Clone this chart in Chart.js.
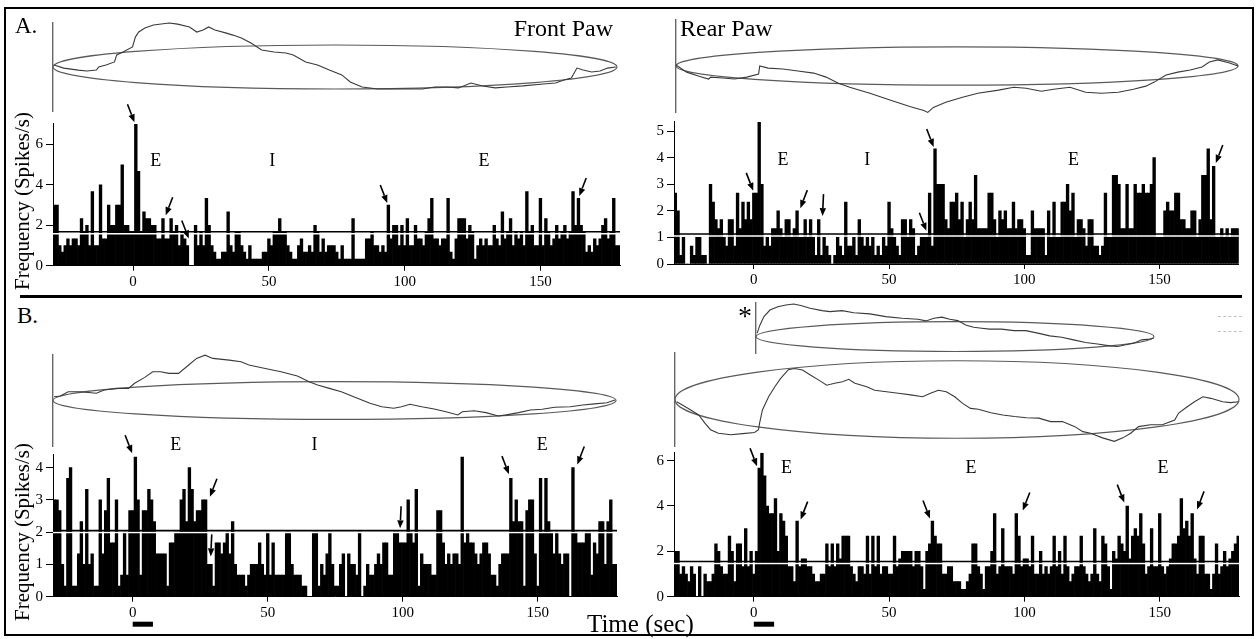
<!DOCTYPE html>
<html>
<head>
<meta charset="utf-8">
<script src="https://cdn.jsdelivr.net/npm/chart.js"></script>
<style>
  html, body { margin: 0; padding: 0; background: #fff; }
  body { width: 1257px; height: 639px; position: relative; overflow: hidden;
         font-family: "Liberation Serif", "Times New Roman", serif; color: #000; }
  canvas { position: absolute; }
  .txt { position: absolute; white-space: nowrap; line-height: 1; }
  .ylab { position: absolute; white-space: nowrap; line-height: 1; font-size: 21px;
          transform: translate(-50%, -50%) rotate(-90deg); }
  #frame { position: absolute; left: 4px; top: 7px; width: 1246px; height: 625px; border: 2px solid #000; }
  #divider { position: absolute; left: 20px; top: 295px; width: 1222px; height: 3px; background: #000; }
  .dash { position: absolute; left: 1218px; width: 24px; border-top: 1px dashed #c4c4c4; }
</style>
</head>
<body>
<div id="frame"></div>
<div id="divider"></div>
<div class="dash" style="top:316px"></div>
<div class="dash" style="top:331px"></div>

<canvas id="histAF"></canvas>
<canvas id="histAR"></canvas>
<canvas id="histBF"></canvas>
<canvas id="histBR"></canvas>
<canvas id="traceAF"></canvas>
<canvas id="traceAR"></canvas>
<canvas id="traceBF"></canvas>
<canvas id="traceBR"></canvas>
<canvas id="traceBRinset"></canvas>

<div class="txt" style="left:15px;top:14px;font-size:23px">A.</div>
<div class="txt" style="right:644px;top:16px;font-size:24px">Front Paw</div>
<div class="txt" style="left:680px;top:16px;font-size:24px">Rear Paw</div>
<div class="txt" style="left:17px;top:304px;font-size:23px">B.</div>
<div class="txt" style="left:738px;top:302px;font-size:28px">*</div>
<div class="ylab" style="left:22px;top:201px">Frequency (Spikes/s)</div>
<div class="ylab" style="left:22px;top:532px">Frequency (Spikes/s)</div>
<div class="txt" style="left:587px;top:611px;font-size:25px">Time (sec)</div>

<script>
// ---- histogram data: spikes/s in 1 s bins, first bin centred at -29 s ----
const BIN_FIRST = -29;
const TIME_TICKS = [0, 50, 100, 150];

// A. front paw
const FRONT_A = [
  3.0, 3.0, 1.0, 0.67, 1.0, 1.33, 1.0, 1.33, 1.33, 1.0,
  2.33, 1.67, 2.0, 1.0, 3.67, 1.0, 1.0, 4.0, 1.33, 1.33,
  3.0, 2.0, 2.0, 3.0, 3.0, 5.0, 2.0, 2.0, 1.67, 1.67,
  7.0, 4.67, 1.67, 2.67, 2.33, 2.33, 2.0, 2.0, 1.33, 1.33,
  2.33, 1.33, 1.33, 2.33, 1.67, 2.0, 1.0, 1.67, 1.33, 1.0,
  0, 0, 2.0, 1.0, 1.67, 1.0, 3.33, 2.0, 1.0, 0.67,
  0.33, 0.33, 0.67, 0.67, 2.67, 1.0, 0.67, 1.67, 1.67, 1.0,
  0.67, 0.33, 1.0, 0.33, 0.33, 0.33, 0.33, 0.67, 0.67, 1.33,
  1.0, 1.67, 1.67, 2.33, 1.67, 1.67, 1.0, 0.67, 0.33, 0.33,
  1.0, 1.33, 0.67, 0.67, 1.0, 0.67, 2.0, 1.67, 0.67, 1.33,
  0.67, 1.0, 1.0, 1.0, 0.67, 0.33, 1.0, 0.33, 0.33, 0.33,
  2.33, 0.33, 0.33, 0.33, 0.33, 1.33, 1.33, 1.67, 1.0, 1.0,
  0.67, 1.0, 0.67, 3.0, 1.33, 2.0, 2.0, 1.0, 2.0, 1.0,
  2.33, 1.0, 1.0, 2.0, 1.33, 1.33, 1.0, 1.67, 2.33, 3.33,
  1.33, 1.33, 1.0, 1.33, 1.33, 3.33, 0.67, 0.33, 1.33, 2.33,
  2.33, 2.33, 1.33, 2.0, 1.67, 0.33, 1.0, 1.33, 1.0, 1.33,
  1.0, 1.0, 2.0, 1.33, 1.0, 2.67, 1.33, 1.67, 2.33, 1.0,
  1.67, 1.33, 1.67, 1.0, 3.67, 1.67, 2.0, 1.0, 1.0, 3.33,
  1.0, 2.33, 1.67, 1.0, 1.33, 2.0, 1.33, 1.67, 2.0, 1.33,
  1.67, 3.67, 2.0, 3.33, 2.0, 1.67, 0.67, 1.0, 0.67, 1.33,
  1.0, 1.33, 2.0, 2.33, 1.33, 1.67, 3.33, 1.0, 1.0
];

// A. rear paw
const REAR_A = [
  2.67, 2.0, 0.33, 1.0, 0, 0, 0.67, 0.33, 1.0, 1.0,
  0.33, 0.33, 0, 3.0, 2.33, 1.67, 1.33, 1.67, 1.0, 0.67,
  1.67, 1.67, 0.67, 2.67, 1.33, 2.33, 1.67, 2.33, 1.67, 2.67,
  2.67, 5.33, 3.0, 0.67, 1.0, 0.67, 1.33, 1.33, 2.0, 1.33,
  1.0, 1.67, 1.67, 1.0, 1.33, 2.0, 1.0, 1.0, 1.67, 1.0,
  1.67, 1.0, 0.33, 1.67, 0.33, 1.0, 0.67, 0.33, 0, 0.33,
  1.0, 0.67, 0.33, 2.33, 0.67, 0.67, 1.0, 0.33, 1.67, 1.0,
  0.67, 1.0, 0.67, 1.0, 0.33, 0.67, 0.33, 1.0, 0.67, 2.33,
  1.33, 1.0, 0.67, 0.33, 1.67, 1.67, 1.0, 1.67, 1.33, 0.33,
  0.67, 1.0, 1.0, 1.0, 2.67, 0.67, 4.33, 3.0, 3.0, 3.0,
  1.67, 1.33, 2.33, 2.33, 2.67, 1.67, 2.33, 1.0, 1.67, 2.33,
  1.67, 3.33, 1.33, 1.33, 1.33, 1.33, 2.67, 2.67, 1.67, 1.0,
  2.0, 1.67, 2.0, 1.33, 1.33, 2.33, 1.33, 1.67, 1.67, 1.33,
  0.33, 0.33, 2.0, 1.33, 1.33, 1.33, 1.33, 0.33, 2.0, 1.0,
  2.33, 1.0, 1.0, 2.33, 2.33, 3.0, 2.0, 2.67, 1.0, 1.67,
  1.67, 1.33, 0.67, 1.67, 1.67, 0.67, 0.67, 0.33, 0.67, 2.67,
  1.0, 1.0, 3.33, 3.33, 3.0, 1.33, 1.33, 3.0, 1.33, 1.33,
  3.0, 2.67, 2.67, 3.0, 2.67, 2.67, 3.0, 4.0, 1.0, 1.0,
  1.0, 2.0, 2.33, 2.0, 2.0, 2.67, 2.67, 1.67, 1.67, 1.33,
  1.33, 2.0, 2.0, 1.0, 1.67, 3.33, 3.33, 4.33, 1.67, 3.67,
  1.0, 1.0, 1.33, 1.0, 1.33, 1.0, 1.33, 1.33, 1.33
];

// B. front paw
const FRONT_B = [
  3.0, 3.0, 2.67, 1.0, 0.33, 3.67, 4.0, 0.33, 0.33, 1.33,
  2.33, 1.0, 3.33, 1.0, 1.33, 0.33, 0.33, 3.0, 1.33, 2.67,
  3.67, 1.67, 1.67, 3.0, 0.33, 0.67, 2.0, 0.67, 2.67, 2.67,
  4.33, 3.0, 0.67, 2.67, 2.67, 3.33, 3.0, 2.33, 1.33, 1.33,
  1.33, 1.33, 0.33, 1.67, 1.67, 2.0, 2.0, 3.0, 3.33, 2.33,
  4.0, 3.33, 2.33, 2.67, 2.67, 3.0, 3.0, 1.0, 1.0, 0.33,
  1.67, 1.67, 1.33, 1.67, 2.0, 1.33, 2.33, 1.0, 0.67, 0.67,
  0.67, 0.33, 0.67, 1.0, 1.0, 1.0, 1.67, 1.0, 0.67, 2.0,
  0.67, 1.67, 0.67, 0.67, 0.67, 0.67, 2.0, 2.0, 1.0, 0.67,
  0.67, 0.67, 0.33, 0.33, 0, 0, 2.0, 2.0, 0.33, 1.0,
  0.67, 1.33, 2.0, 1.0, 0.33, 0.33, 1.0, 1.33, 0, 1.33,
  1.0, 1.0, 0.67, 2.0, 0, 0.33, 1.0, 0.67, 0.67, 1.0,
  1.33, 1.0, 1.67, 1.67, 0.67, 0.67, 2.0, 2.0, 1.67, 1.67,
  1.67, 3.0, 2.0, 1.67, 3.33, 0.33, 1.33, 1.0, 1.0, 1.0,
  0.67, 0.67, 2.67, 2.67, 1.67, 1.0, 1.33, 1.0, 1.33, 1.33,
  1.0, 4.33, 1.67, 2.0, 1.67, 1.67, 1.33, 1.0, 1.33, 1.67,
  1.67, 1.33, 0.67, 0.67, 0.33, 1.0, 1.33, 1.33, 1.33, 3.67,
  2.33, 3.0, 2.33, 2.33, 0.33, 2.67, 3.0, 3.0, 1.33, 0.33,
  3.67, 2.0, 3.67, 2.33, 2.0, 1.33, 2.0, 1.33, 1.0, 1.33,
  1.33, 0, 4.0, 2.0, 1.67, 1.67, 1.67, 2.0, 2.0, 0.67,
  1.67, 1.33, 2.33, 2.33, 1.0, 2.33, 3.0, 1.0, 1.0
];

// B. rear paw
const REAR_B = [
  2.0, 2.0, 1.0, 1.33, 1.0, 0.67, 1.33, 1.0, 0, 1.33,
  0, 1.0, 0.67, 0.67, 1.0, 2.33, 2.0, 1.33, 1.0, 1.0,
  2.67, 2.0, 0.67, 2.33, 2.33, 1.33, 3.0, 1.33, 2.0, 1.0,
  2.0, 5.67, 6.33, 5.33, 4.0, 3.67, 3.67, 4.33, 2.0, 3.67,
  3.33, 2.67, 1.33, 1.33, 0.67, 3.33, 1.33, 1.67, 1.67, 1.33,
  1.33, 1.0, 0.67, 0.67, 1.0, 1.0, 2.33, 1.33, 2.33, 1.33,
  2.33, 1.67, 2.67, 2.67, 2.67, 1.33, 1.0, 0.67, 1.33, 1.33,
  1.0, 2.67, 1.0, 2.67, 1.33, 2.67, 1.0, 1.33, 1.33, 1.0,
  1.0, 2.67, 1.33, 1.67, 2.0, 2.0, 2.0, 2.0, 1.33, 2.0,
  2.0, 1.33, 0.33, 2.0, 2.33, 3.33, 2.67, 2.33, 2.33, 1.0,
  1.0, 1.33, 1.33, 0.67, 0.67, 0.67, 0.33, 0.33, 0.67, 1.0,
  2.33, 2.33, 1.33, 1.0, 0.33, 1.33, 1.33, 2.0, 3.67, 1.0,
  1.33, 3.0, 1.33, 1.33, 1.33, 1.0, 3.67, 2.67, 1.33, 1.67,
  1.67, 1.33, 2.67, 1.0, 1.0, 2.0, 1.0, 1.33, 1.0, 1.33,
  2.67, 1.33, 2.0, 1.0, 2.67, 1.33, 0.67, 1.0, 1.33, 1.33,
  2.67, 1.33, 1.0, 0.67, 1.0, 3.0, 1.0, 0.67, 2.67, 2.33,
  1.33, 0.33, 2.0, 1.67, 2.67, 2.33, 2.0, 4.0, 1.67, 2.67,
  3.0, 2.67, 3.67, 2.33, 1.0, 1.33, 3.0, 1.33, 1.33, 3.67,
  1.33, 1.0, 1.33, 1.67, 2.33, 2.33, 2.67, 4.33, 3.0, 3.33,
  2.67, 3.67, 1.67, 1.0, 2.67, 2.67, 1.0, 1.0, 0.33, 1.0,
  2.33, 1.0, 1.33, 2.0, 1.33, 1.67, 2.0, 2.33, 2.67
];

const Y_TICKS_FRONT_A = [0, 2, 4, 6];
const Y_TICKS_REAR_A = [0, 1, 2, 3, 4, 5];
const Y_TICKS_FRONT_B = [0, 1, 2, 3, 4];
const Y_TICKS_REAR_B = [0, 2, 4, 6];

// threshold (mean + 2sd style) lines
const THRESH_FRONT_A = 1.68, THRESH_REAR_A = 1.13, THRESH_FRONT_B = 2.05, THRESH_REAR_B = 1.55;

// E / I labels: [time, rate, text]
const LABELS_FRONT_A = [[8.3, 5.15, 'E'], [51.2, 5.15, 'I'], [129.2, 5.15, 'E']];
const LABELS_REAR_A = [[10.8, 3.9, 'E'], [41.9, 3.9, 'I'], [118.2, 3.9, 'E']];
const LABELS_FRONT_B = [[15.9, 4.7, 'E'], [67.3, 4.7, 'I'], [151.6, 4.7, 'E']];
const LABELS_REAR_B = [[12.1, 5.66, 'E'], [80.3, 5.66, 'E'], [151.2, 5.66, 'E']];

// arrows: [time, rate at tip, side the arrow comes from]
const ARROWS_FRONT_A = [[0.5, 7.1, 'l'], [12, 2.5, 'r'], [20.5, 1.35, 'l'], [93.6, 3.1, 'l'], [164.3, 3.45, 'r']];
const ARROWS_REAR_A = [[-0.2, 2.75, 'l'], [17.2, 2.1, 'r'], [25.4, 1.8, 'd'], [63.8, 1.25, 'l'], [66.5, 4.4, 'l'], [170.8, 3.8, 'r']];
const ARROWS_FRONT_B = [[-0.2, 4.45, 'l'], [28.6, 3.1, 'r'], [28.9, 1.25, 'd'], [99, 2.12, 'd'], [139.3, 3.8, 'l'], [164.6, 4.1, 'r']];
const ARROWS_REAR_B = [[1.2, 5.75, 'l'], [17.3, 3.4, 'r'], [65.1, 3.45, 'l'], [99.4, 3.8, 'r'], [136.9, 4.15, 'l'], [163.8, 3.85, 'r']];

// stimulus bar (s)
const STIM = [0, 7.5];

// ---- traces above the histograms (x: 0-100 across the ellipse, y: ellipse half height = 10) ----
const TRACE_FRONT_A_X = [0.2,1.9,4.5,6,7.7,8.1,9.4,10.9,11.3,12.4,14.1,14.6,15.2,16.3,17.8,20.6,22.1,24.2,25.5,26.6,27.6,28.7,30.6,31.9,33.4,35.1,37,39.2,41.3,42.6,44.8,46.9,49,51.2,52.7,54.8,57.6,59.1,61.9,65.5,67.7,69.8,71.9,74.1,76.2,78.4,80.5,83.3,86.9,89.1,90.6,91.9,92.9,94,95.5,97,98.3,99.8];
const TRACE_FRONT_A_Y = [0.9,-0.5,-1.4,-1.8,-1.4,0,0.9,2.3,5.5,6.8,9.1,13.6,15.9,17.7,19.1,20,19.5,18.2,15.9,16.8,18.2,16.8,15.5,14.5,13.2,10.9,7.7,6.8,6.4,5.5,2.3,0.9,-1.4,-3.6,-6.8,-9.1,-10,-10,-10,-10,-9.1,-9.1,-9.5,-7.3,-8.6,-9.5,-9.1,-8.6,-7.7,-7.3,-5.9,-5,-0.5,-1.4,-2.3,-1.8,-0.5,0];

const TRACE_REAR_A_X = [0,1.9,4.1,5.8,6.2,8.3,10.4,12.6,14.7,14.9,16.4,19,21.7,24.5,26.7,28.8,30.9,34.5,38.2,41.6,44.1,44.8,45.8,48,51,53.7,57.4,60.1,62.3,65,67.2,70.1,72.9,75.7,78.7,81.4,83.6,85.1,87.2,89.3,91.5,93.6,94.9,96.4,98.5,100];
const TRACE_REAR_A_Y = [0.5,-3.2,-5.3,-6.8,-5.8,-6.3,-6.8,-5.8,-4.2,0,-1.1,-1.6,-2.6,-3.7,-5.8,-8.9,-11.1,-14.2,-17.9,-21.1,-23.2,-24.2,-21.6,-18.9,-16.3,-14.2,-12.6,-11.1,-11.6,-13.2,-12.1,-11.1,-13.7,-14.2,-13.7,-12.1,-10.5,-8.4,-4.7,-3.2,-2.1,-0.5,2.1,3.2,1.6,0];

const TRACE_FRONT_B_X = [0.2,1.3,2.7,4.9,7.7,9.1,11.3,13.4,14.5,16.3,17.7,19.1,20.6,22.3,24.1,25.5,27,28.4,31.3,33.4,34.8,37.7,40.5,43.4,45.5,47,49.1,51.2,53.4,56.3,58.4,60.5,61.9,63.4,65.5,67.7,69.8,71.9,72.7,74.8,76.9,79.1,80.5,82.7,84.8,86.9,89.1,91.9,94.1,96.2,98.4,99.8];
const TRACE_FRONT_B_Y = [2.0,2.4,4.6,4.6,3.8,5.5,6.4,6.4,9.1,12.2,15.2,15.2,14.3,14.3,18.7,22.2,23.9,22.2,21.3,20.4,18.7,16.9,15.2,12.9,9.9,8.2,6.4,4.6,2.0,-1.5,-3.3,-4.1,-3.3,-2.0,-3.3,-4.5,-5.9,-7.6,-5.9,-5.4,-6.4,-8.2,-7.6,-6.4,-5.0,-4.6,-3.6,-3.3,-2.4,-1.8,-1.2,0.3];

const TRACE_REAR_B_X = [0.3,1.3,2.8,4.2,5.3,6.3,7.7,9.9,12,14.1,14.8,15,15.5,16.6,17.7,18.7,20.1,21.2,22.6,24,25.5,26.9,28.3,29.7,30.8,31.9,34,35.4,37.5,39.6,41.8,43.9,45.3,46.7,48.1,49.6,51,52.4,53.8,56,58.1,60.2,62.3,64.5,66.6,68.7,70.9,72.3,73.7,75.8,77.9,79.4,80.8,82.2,84.3,86.4,88.6,89.3,90.7,92.1,93.6,95,97.1,98.5,99.9];
const TRACE_REAR_B_Y = [-0.6,-1.4,-2.7,-4.0,-6.1,-7.8,-8.7,-9.1,-8.8,-8.5,-7.8,-6.1,-2.7,0.7,3.3,5.4,7.7,8.0,7.6,6.3,5.0,3.7,4.2,4.6,5.2,4.2,3.3,2.4,2.0,1.6,1.2,0.7,1.6,2.4,2.0,0.7,-1.0,-2.3,-2.5,-3.4,-4.0,-4.4,-4.7,-4.8,-5.7,-5.7,-7.0,-8.3,-8.7,-9.9,-10.8,-9.9,-8.7,-7.0,-6.5,-6.5,-5.3,-3.5,-2.0,-0.6,0.7,0.3,-0.6,-0.8,-0.6];

// inset trace (*)
const TRACE_INSET_X = [0.3,1.0,2.0,3.5,5.5,7.5,9.5,11.5,13.6,16.6,18.6,21.6,24.6,28.6,32.6,36.7,40.7,42.7,44.7,46.7,48.7,50.7,52.7,54.7,56.7,58.7,61.7,64.8,67.8,70.8,73.8,76.8,79.8,82.8,85.8,88.9,90.9,92.9,94.9,96.9,98.9,99.9];
const TRACE_INSET_Y = [1.8,7.3,12.9,17.3,19.5,20.7,21.3,20.2,18.5,16.9,16.2,16.9,15.5,14.7,12.9,11.8,11.1,10.0,11.8,12.5,11.1,10.2,7.3,5.8,5.1,4.5,4.5,3.5,3.5,1.8,0,-0.9,-2.7,-4.5,-5.5,-6.7,-7.1,-6.0,-4.9,-2.7,-2.2,-1.5];

// ellipses: [cx, cy, rx, ry]
const ELLIPSE_STD = [50, 0, 50, 10];
const ELLIPSE_INSET = [50, -0.5, 50, 10];

// ---------------------------------------------------------------
const FONT = '"Liberation Serif", "Times New Roman", serif';
Chart.defaults.font.family = FONT;
Chart.defaults.font.size = 15;
Chart.defaults.color = '#000';

const BIN_TIMES = FRONT_A.map((_, i) => BIN_FIRST + i);
const X_MIN = -29.5, X_MAX = 179.3;
const TAIL = { l: [-7, -18], r: [7, -18], d: [1, -22] };

function place(id, box) {
  const c = document.getElementById(id);
  c.width = box.w; c.height = box.h;
  c.style.left = box.x + 'px'; c.style.top = box.y + 'px';
  c.style.width = box.w + 'px'; c.style.height = box.h + 'px';
  return c;
}

function arrow(ctx, tx, ty, off) {
  const [dx, dy] = off;
  const len = Math.hypot(dx, dy);
  const ux = -dx / len, uy = -dy / len;
  const head = 8, half = 3.2;
  const bx = tx - ux * head, by = ty - uy * head;
  ctx.lineWidth = 1.6;
  ctx.beginPath(); ctx.moveTo(tx + dx, ty + dy); ctx.lineTo(bx, by); ctx.stroke();
  ctx.beginPath();
  ctx.moveTo(tx, ty);
  ctx.lineTo(bx - uy * half, by + ux * half);
  ctx.lineTo(bx + uy * half, by - ux * half);
  ctx.closePath(); ctx.fill();
}

function marksPlugin(o) {
  return {
    id: 'marks',
    afterDatasetsDraw(chart) {
      const { ctx, chartArea: a, scales: { x, y } } = chart;
      ctx.save();
      const ty = y.getPixelForValue(o.threshold);
      ctx.strokeStyle = '#fff'; ctx.lineWidth = 1.5;
      ctx.beginPath(); ctx.moveTo(a.left, ty + 2); ctx.lineTo(a.right, ty + 2); ctx.stroke();
      ctx.strokeStyle = '#000'; ctx.lineWidth = 1.6;
      ctx.beginPath(); ctx.moveTo(a.left, ty); ctx.lineTo(a.right, ty); ctx.stroke();
      ctx.fillStyle = '#000';
      ctx.font = '18px ' + FONT; ctx.textAlign = 'center'; ctx.textBaseline = 'middle';
      o.labels.forEach(([t, v, s]) => ctx.fillText(s, x.getPixelForValue(t), y.getPixelForValue(v)));
      o.arrows.forEach(([t, v, side]) => arrow(ctx, x.getPixelForValue(t), y.getPixelForValue(v), TAIL[side]));
      if (o.stim) {
        const x0 = x.getPixelForValue(o.stim[0]), x1 = x.getPixelForValue(o.stim[1]);
        ctx.fillRect(x0, a.bottom + 25, x1 - x0, 5);
      }
      ctx.restore();
    }
  };
}

function histChart(id, box, o) {
  return new Chart(place(id, box), {
    type: 'bar',
    data: {
      datasets: [{
        data: o.values.map((v, i) => ({ x: BIN_TIMES[i], y: v })),
        backgroundColor: '#000', borderWidth: 0,
        barPercentage: 1, categoryPercentage: 1
      }]
    },
    options: {
      responsive: false, animation: false, events: [],
      layout: { padding: { top: o.padTop, right: o.padRight, left: 0, bottom: 0 } },
      plugins: { legend: { display: false }, tooltip: { enabled: false } },
      scales: {
        x: {
          type: 'linear', min: X_MIN, max: X_MAX, offset: false,
          afterBuildTicks: s => { s.ticks = TIME_TICKS.map(v => ({ value: v })); },
          afterFit: s => { s.height = o.axisH; },
          grid: { display: true, offset: false, drawOnChartArea: false, color: '#000', tickLength: 5 },
          border: { display: true, color: '#000', width: 1 },
          ticks: { padding: 2, maxRotation: 0, autoSkip: false }
        },
        y: {
          min: 0, max: o.yMax,
          afterBuildTicks: s => { s.ticks = o.yTicks.map(v => ({ value: v })); },
          afterFit: s => { s.width = o.axisW; },
          grid: { display: true, drawOnChartArea: false, color: '#000', tickLength: 7 },
          border: { display: true, color: '#000', width: 1 },
          ticks: { padding: 3 }
        }
      }
    },
    plugins: [marksPlugin(o)]
  });
}

function ellipsePlugin(e) {
  return {
    id: 'ellipse',
    beforeDatasetsDraw(chart) {
      const { ctx, scales: { x, y } } = chart;
      const cx = x.getPixelForValue(e[0]), cy = y.getPixelForValue(e[1]);
      const rx = Math.abs(x.getPixelForValue(e[0] + e[2]) - cx);
      const ry = Math.abs(y.getPixelForValue(e[1] + e[3]) - cy);
      ctx.save();
      ctx.beginPath(); ctx.ellipse(cx, cy, rx, ry, 0, 0, Math.PI * 2);
      ctx.strokeStyle = '#5a5a5a'; ctx.lineWidth = 1.2; ctx.stroke();
      ctx.restore();
    }
  };
}

function traceChart(id, box, t) {
  return new Chart(place(id, box), {
    type: 'scatter',
    data: {
      datasets: [{
        data: t.xs.map((x, i) => ({ x, y: t.ys[i] })),
        showLine: true, pointRadius: 0, tension: 0, clip: false,
        borderColor: '#3a3a3a', borderWidth: 1.1
      }]
    },
    options: {
      responsive: false, animation: false, events: [],
      layout: { padding: 6 },
      plugins: { legend: { display: false }, tooltip: { enabled: false } },
      scales: {
        x: { type: 'linear', display: false, min: 0, max: 100 },
        y: {
          type: 'linear', min: t.yMin, max: t.yMax,
          grid: { display: false, drawTicks: false },
          ticks: { display: false },
          border: { display: true, color: '#666', width: 1.4 },
          afterFit: s => { s.width = 0; }
        }
      }
    },
    plugins: [ellipsePlugin(t.ellipse)]
  });
}

// histograms
histChart('histAF', { x: 0, y: 95, w: 630, h: 200 }, {
  values: FRONT_A, yMax: 7.05, yTicks: Y_TICKS_FRONT_A, threshold: THRESH_FRONT_A,
  labels: LABELS_FRONT_A, arrows: ARROWS_FRONT_A,
  padTop: 28.3, padRight: 10, axisW: 53, axisH: 29.3
});
histChart('histAR', { x: 630, y: 95, w: 627, h: 200 }, {
  values: REAR_A, yMax: 5.35, yTicks: Y_TICKS_REAR_A, threshold: THRESH_REAR_A,
  labels: LABELS_REAR_A, arrows: ARROWS_REAR_A,
  padTop: 26.7, padRight: 18.2, axisW: 44, axisH: 31
});
histChart('histBF', { x: 0, y: 430, w: 630, h: 207 }, {
  values: FRONT_B, yMax: 4.4, yTicks: Y_TICKS_FRONT_B, threshold: THRESH_FRONT_B,
  labels: LABELS_FRONT_B, arrows: ARROWS_FRONT_B, stim: STIM,
  padTop: 24.8, padRight: 13, axisW: 53, axisH: 40.3
});
histChart('histBR', { x: 630, y: 430, w: 627, h: 207 }, {
  values: REAR_B, yMax: 6.35, yTicks: Y_TICKS_REAR_B, threshold: THRESH_REAR_B,
  labels: LABELS_REAR_B, arrows: ARROWS_REAR_B, stim: STIM,
  padTop: 22.7, padRight: 18, axisW: 44, axisH: 40.3
});

// traces
traceChart('traceAF', { x: 47, y: 17, w: 576, h: 100 },
  { xs: TRACE_FRONT_A_X, ys: TRACE_FRONT_A_Y, yMin: -20, yMax: 20, ellipse: ELLIPSE_STD });
traceChart('traceAR', { x: 670, y: 14, w: 574, h: 104 },
  { xs: TRACE_REAR_A_X, ys: TRACE_REAR_A_Y, yMin: -24, yMax: 24, ellipse: ELLIPSE_STD });
traceChart('traceBF', { x: 47, y: 349, w: 575, h: 103 },
  { xs: TRACE_FRONT_B_X, ys: TRACE_FRONT_B_Y, yMin: -24, yMax: 24, ellipse: ELLIPSE_STD });
traceChart('traceBR', { x: 669, y: 347, w: 576, h: 105 },
  { xs: TRACE_REAR_B_X, ys: TRACE_REAR_B_Y, yMin: -12, yMax: 12, ellipse: ELLIPSE_STD });
traceChart('traceBRinset', { x: 750, y: 297, w: 410, h: 62 },
  { xs: TRACE_INSET_X, ys: TRACE_INSET_Y, yMin: -11.5, yMax: 22, ellipse: ELLIPSE_INSET });
</script>
</body>
</html>
